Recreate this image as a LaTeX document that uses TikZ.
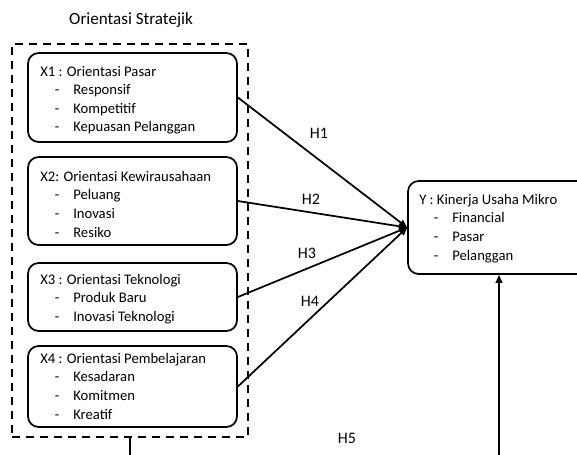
\documentclass[tikz,border=0pt]{standalone}
\usepackage{fontspec}
\setmainfont{Carlito}
\usetikzlibrary{arrows.meta}
\newcommand{\itm}[1]{\makebox[24.75pt][l]{\hspace{11pt}-}#1}
\tikzset{
  box/.style={draw, line width=1.3pt, rounded corners=8pt, inner sep=0pt},
  frame/.style={draw, line width=1.5pt, dash pattern=on 6pt off 4.5pt, inner sep=0pt},
  txt/.style={anchor=north west, inner sep=0pt, align=left, font=\fontsize{11}{13.9}\selectfont},
  lbl/.style={inner sep=0pt, font=\fontsize{12}{14}\selectfont},
  conn/.style={line width=1.3pt, -{Triangle[length=6pt,width=5pt]}},
  plain/.style={line width=1.3pt}
}
\begin{document}
\begin{tikzpicture}[x=0.75pt,y=-0.75pt]
\useasboundingbox (0,0) rectangle (577,454);
\node[inner sep=0pt, font=\fontsize{12.8}{15}\selectfont] (title) at (131,20) {Orientasi Stratejik};
\node[frame, minimum width=177pt, minimum height=294.75pt] (frame) at (130,240.5) {};
\node[box, minimum width=156.75pt, minimum height=66.75pt] (x1) at (132.5,97.5) {};
\node[box, minimum width=156.75pt, minimum height=66pt] (x2) at (132.5,201) {};
\node[box, minimum width=156.75pt, minimum height=51pt] (x3) at (132.5,297) {};
\node[box, minimum width=156.75pt, minimum height=60.75pt] (x4) at (132.5,386.5) {};
\node[box, minimum width=144pt, minimum height=69.75pt] (y) at (504,227.5) {};
\node[txt] (x1t) at (40,66) {X1 : Orientasi Pasar\\\itm{Responsif}\\\itm{Kompetitif}\\\itm{Kepuasan Pelanggan}};
\node[txt] (x2t) at (40,171) {X2: Orientasi Kewirausahaan\\\itm{Peluang}\\\itm{Inovasi}\\\itm{Resiko}};
\node[txt] (x3t) at (40,274) {X3 : Orientasi Teknologi\\\itm{Produk Baru}\\\itm{Inovasi Teknologi}};
\node[txt] (x4t) at (40,353) {X4 : Orientasi Pembelajaran\\\itm{Kesadaran}\\\itm{Komitmen}\\\itm{Kreatif}};
\node[txt] (yt) at (419,194) {Y : Kinerja Usaha Mikro\\\itm{Financial}\\\itm{Pasar}\\\itm{Pelanggan}};
\draw[conn] (x1.east) -- (y.west);
\draw[conn] (x2.east) -- (y.west);
\draw[conn] (x3.east) -- (y.west);
\draw[conn] (x4.east) -- (y.west);
\node[lbl] (h1) at (319,133) {H1};
\node[lbl] (h2) at (311,199) {H2};
\node[lbl] (h3) at (307,253) {H3};
\node[lbl] (h4) at (310,301) {H4};
\node[lbl] (h5) at (347,438) {H5};
\coordinate (fb) at (130,458);
\draw[plain] (frame.south) -- (fb);
\coordinate (ab) at (499,458);
\draw[conn] (ab) -- (ab |- y.south);
\end{tikzpicture}
\end{document}
